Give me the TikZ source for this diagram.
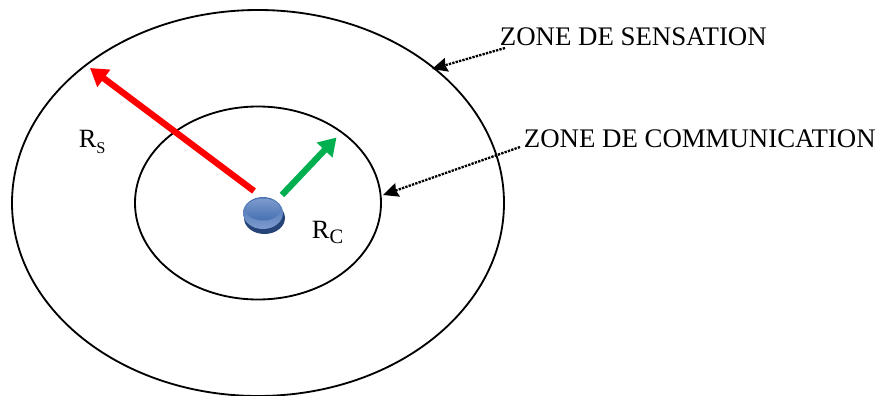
\documentclass[tikz,border=0pt]{standalone}
\usepackage{fontspec}
\setmainfont{Liberation Serif}
\usetikzlibrary{arrows.meta, shapes.geometric}
\definecolor{rangecol}{RGB}{0,0,0}
\definecolor{senscol}{RGB}{255,0,0}
\definecolor{commcol}{RGB}{0,176,80}
\definecolor{nodetop}{RGB}{125,155,205}
\definecolor{nodemid}{RGB}{70,112,178}
\definecolor{nodedark}{RGB}{38,68,120}
\newcommand{\subsmall}[1]{\raisebox{-0.22em}{\fontsize{14pt}{14pt}\selectfont #1}}
\newcommand{\sublarge}[1]{\raisebox{-0.22em}{\fontsize{17.5pt}{18pt}\selectfont #1}}

\begin{document}
\begin{tikzpicture}[
    x=0.03cm, y=-0.03cm,
    >=Latex,
    line width=0.055cm,
    zonelabel/.style={font=\fontsize{22.9pt}{24pt}\selectfont, inner sep=0pt, anchor=base west, text=black},
    radiuslabel/.style={font=\fontsize{22.5pt}{24pt}\selectfont, inner sep=0pt, anchor=base west, text=black},
    radiusarrow/.style={line width=0.19cm, -{Triangle[length=0.52cm, width=0.62cm]}},
    pointer/.style={line width=0.07cm, densely dotted, -{Stealth[length=0.46cm, width=0.42cm, inset=0.05cm]}}
  ]
  \useasboundingbox (0,0) rectangle (883,396);

  % --- coordinates -----------------------------------------------------
  \coordinate (Centre)     at (258,203);
  \coordinate (SensStart)  at (254,191);
  \coordinate (SensEnd)    at (90,68);
  \coordinate (CommStart)  at (282,195);
  \coordinate (CommEnd)    at (336.5,137.5);
  \coordinate (SensFrom)   at (505,48);
  \coordinate (SensTo)     at (432,69);
  \coordinate (CommFrom)   at (520,147);
  \coordinate (CommTo)     at (383,195);

  % --- zones -----------------------------------------------------------
  \draw[rangecol] (Centre) ellipse (246 and 193);
  \draw[rangecol] (Centre) ellipse (123 and 96.5);

  % --- radius arrows ---------------------------------------------------
  \draw[senscol, radiusarrow] (SensStart) -- (SensEnd);
  \draw[commcol, radiusarrow] (CommStart) -- (CommEnd);

  % --- sensor node -----------------------------------------------------
  \fill[nodedark] (264.5,218) ellipse (20.5 and 16);
  \shade[top color=nodemid, bottom color=nodetop] (263,213) ellipse (20 and 16);
  \shade[top color=nodetop, bottom color=nodemid] (263,209.5) ellipse (17.5 and 11);

  % --- labels ----------------------------------------------------------
  \node[radiuslabel] (Rs) at (78,148) {R\subsmall{S}};
  \node[radiuslabel] (Rc) at (311,238) {R\sublarge{C}};
  \node[zonelabel] (ZoneSens) at (499,46) {ZONE DE SENSATION};
  \node[zonelabel] (ZoneComm) at (523,148) {ZONE DE COMMUNICATION};

  % --- pointers --------------------------------------------------------
  \draw[pointer] (SensFrom) -- (SensTo);
  \draw[pointer] (CommFrom) -- (CommTo);

\end{tikzpicture}
\end{document}
